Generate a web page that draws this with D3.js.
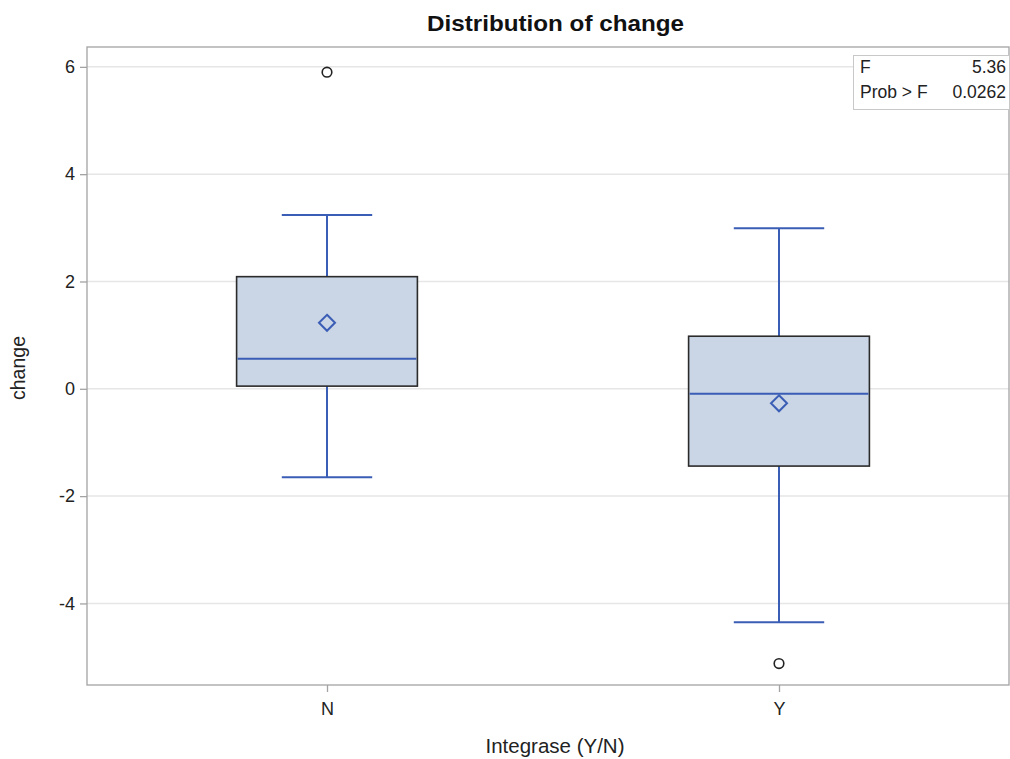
<!DOCTYPE html>
<html><head><meta charset="utf-8">
<script src="https://cdn.jsdelivr.net/npm/d3@7"></script>
<style>body{margin:0;background:#fff;}svg{display:block;font-family:"Liberation Sans",Arial,sans-serif;}</style>
</head><body><svg id="c" width="1010" height="759"></svg>
<script>
const categories = ["N", "Y"];
const q1 = [0.05, -1.44];
const median = [0.56, -0.09];
const q3 = [2.09, 0.98];
const mean = [1.23, -0.27];
const whiskerLow = [-1.65, -4.35];
const whiskerHigh = [3.24, 2.99];
const outliers = [[5.90], [-5.12]];
const yTicks = [-4, -2, 0, 2, 4, 6];
const statLabels = ["F", "Prob > F"];
const statValues = ["5.36", "0.0262"];

const svg = d3.select("#c");
const L = 87, R = 1009, T = 47, B = 685;
const y = d3.scaleLinear().domain([-5.52, 6.37]).range([B, T]);
const x = d3.scalePoint().domain(categories).range([101, 1005]).padding(0.5);
const step = x.step();
const boxW = step * 0.4, capW = step * 0.2;
const blue = "#3a5db5";

// gridlines
svg.append("g").selectAll("line").data(yTicks).join("line")
  .attr("x1", L).attr("x2", R).attr("y1", d => y(d)).attr("y2", d => y(d))
  .attr("stroke", "#e6e6e6").attr("stroke-width", 1.5);

// frame
svg.append("rect").attr("x", L).attr("y", T).attr("width", R - L).attr("height", B - T)
  .attr("fill", "none").attr("stroke", "#a3a3a3").attr("stroke-width", 1.3);

// y axis
const ya = svg.append("g").attr("transform", `translate(${L},0)`)
  .call(d3.axisLeft(y).tickValues(yTicks).tickSize(7).tickPadding(5).tickFormat(d3.format("d")));
ya.select(".domain").remove();
ya.selectAll("line").attr("stroke", "#a3a3a3").attr("stroke-width", 1.3);
ya.selectAll("text").attr("font-size", 18).attr("fill", "#222").attr("font-family", "Liberation Sans, Arial, sans-serif")
  .text(d => d < 0 ? "-" + Math.abs(d) : d);

// x axis
const xa = svg.append("g").attr("transform", `translate(0,${B})`)
  .call(d3.axisBottom(x).tickSize(7).tickPadding(10));
xa.select(".domain").remove();
xa.selectAll("line").attr("stroke", "#a3a3a3").attr("stroke-width", 1.3);
xa.selectAll("text").attr("font-size", 18).attr("fill", "#222").attr("font-family", "Liberation Sans, Arial, sans-serif");

// boxes
const g = svg.append("g");
categories.forEach((c, i) => {
  const cx = x(c);
  g.append("line").attr("x1", cx).attr("x2", cx).attr("y1", y(q3[i])).attr("y2", y(whiskerHigh[i])).attr("stroke", blue).attr("stroke-width", 2);
  g.append("line").attr("x1", cx).attr("x2", cx).attr("y1", y(q1[i])).attr("y2", y(whiskerLow[i])).attr("stroke", blue).attr("stroke-width", 2);
  g.append("line").attr("x1", cx - capW / 2).attr("x2", cx + capW / 2).attr("y1", y(whiskerHigh[i])).attr("y2", y(whiskerHigh[i])).attr("stroke", blue).attr("stroke-width", 2);
  g.append("line").attr("x1", cx - capW / 2).attr("x2", cx + capW / 2).attr("y1", y(whiskerLow[i])).attr("y2", y(whiskerLow[i])).attr("stroke", blue).attr("stroke-width", 2);
  g.append("rect").attr("x", cx - boxW / 2).attr("y", y(q3[i])).attr("width", boxW).attr("height", y(q1[i]) - y(q3[i]))
    .attr("fill", "#cad5e5").attr("stroke", "#2b2b2b").attr("stroke-width", 1.6);
  g.append("line").attr("x1", cx - boxW / 2 + 1).attr("x2", cx + boxW / 2 - 1).attr("y1", y(median[i])).attr("y2", y(median[i])).attr("stroke", blue).attr("stroke-width", 2);
  const my = y(mean[i]), s = 8;
  g.append("path").attr("d", `M${cx},${my - s}L${cx + s},${my}L${cx},${my + s}L${cx - s},${my}Z`)
    .attr("fill", "none").attr("stroke", blue).attr("stroke-width", 2);
  outliers[i].forEach(v => {
    g.append("circle").attr("cx", cx).attr("cy", y(v)).attr("r", 4.8)
      .attr("fill", "none").attr("stroke", "#222").attr("stroke-width", 1.6);
  });
});

// stats inset
const ins = svg.append("g");
ins.append("rect").attr("x", 853.5).attr("y", 55.5).attr("width", 156).attr("height", 54)
  .attr("fill", "#fff").attr("stroke", "#c8c8c8").attr("stroke-width", 1);
statLabels.forEach((t, i) => {
  ins.append("text").attr("x", 860).attr("y", 73 + i * 24.5).attr("font-size", 17.5).attr("fill", "#222").text(t);
  ins.append("text").attr("x", 1006).attr("y", 73 + i * 24.5).attr("font-size", 17.5).attr("fill", "#222").attr("text-anchor", "end").text(statValues[i]);
});

// titles
svg.append("text").attr("x", 555.5).attr("y", 31).attr("text-anchor", "middle").attr("font-size", 22).attr("font-weight", "bold").attr("fill", "#111")
  .attr("textLength", 257).attr("lengthAdjust", "spacingAndGlyphs").text("Distribution of change");
svg.append("text").attr("x", 555).attr("y", 753).attr("text-anchor", "middle").attr("font-size", 20.5).attr("fill", "#222").text("Integrase (Y/N)");
svg.append("text").attr("transform", "translate(25,368) rotate(-90)").attr("text-anchor", "middle").attr("font-size", 19.5).attr("fill", "#222").text("change");
</script></body></html>
